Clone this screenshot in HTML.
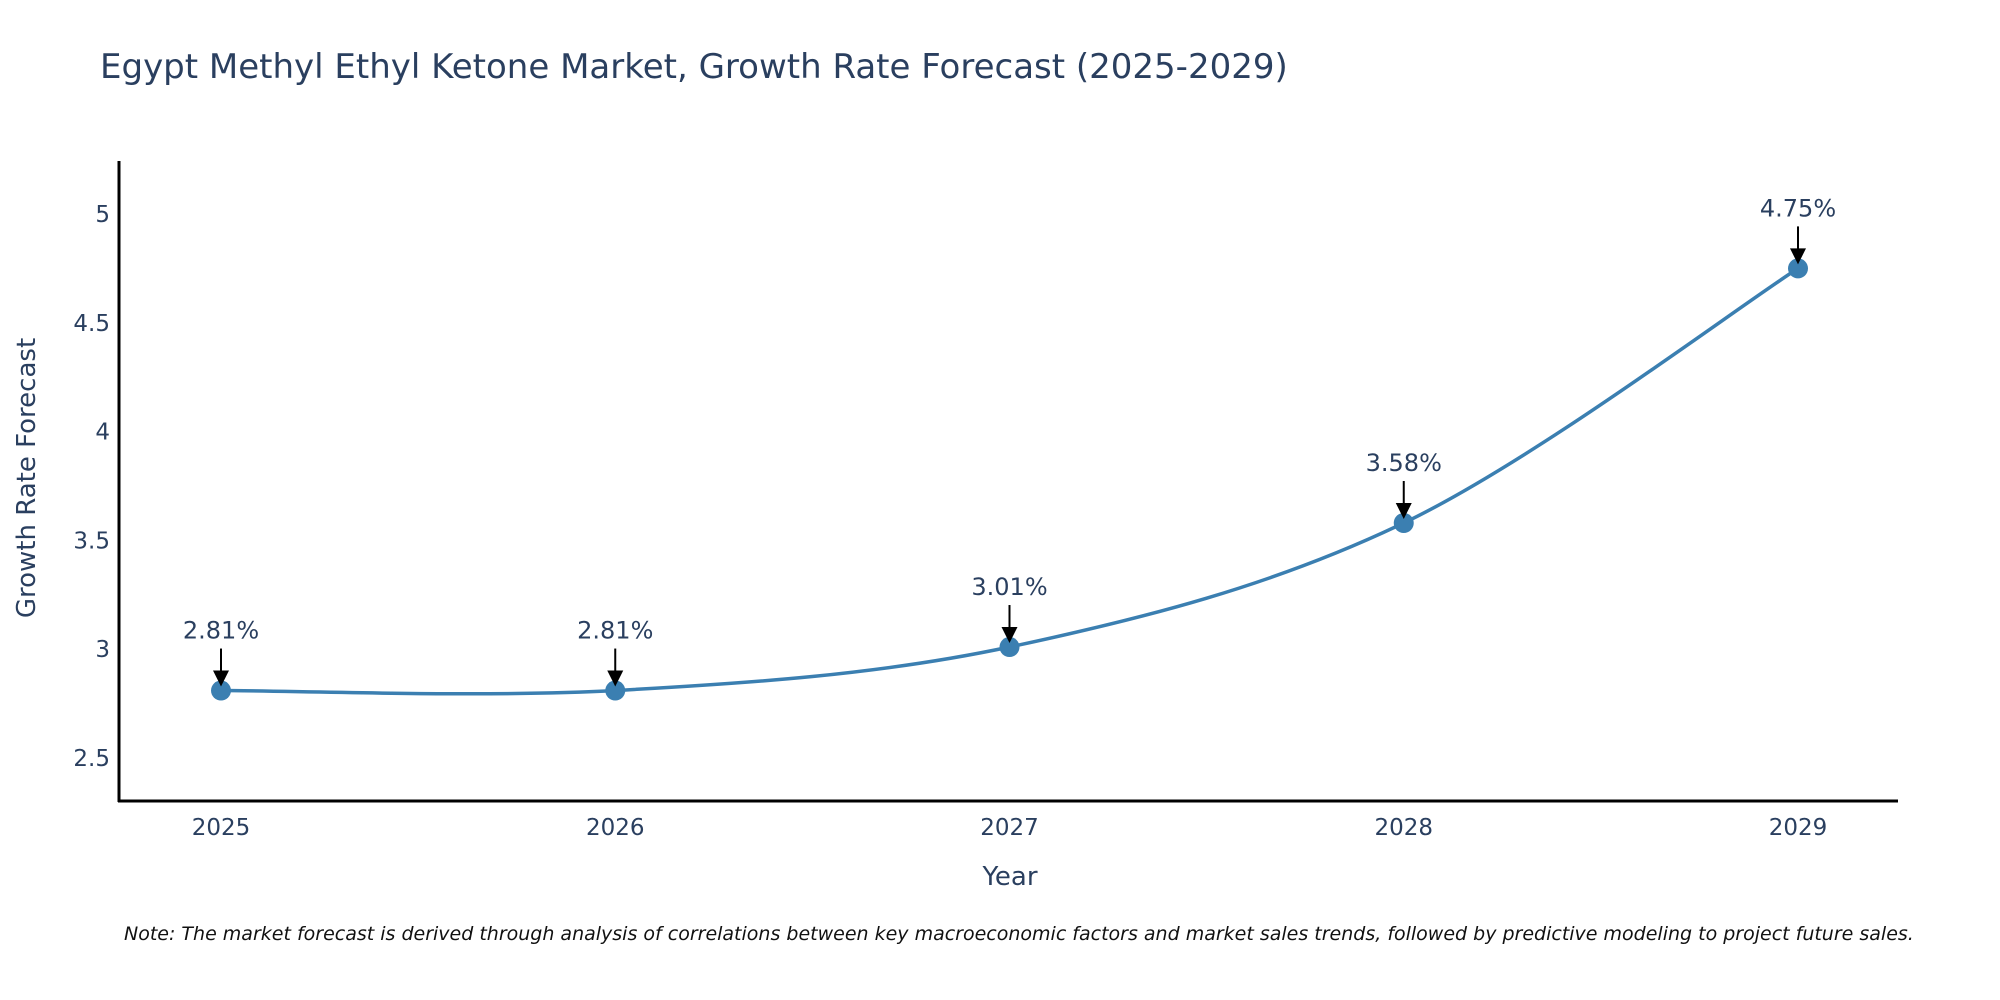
<!DOCTYPE html>
<html><head><meta charset="utf-8"><style>
body{margin:0;background:#fff;}
svg{display:block;font-family:"DejaVu Sans","Liberation Sans",sans-serif;}
</style></head><body>
<svg id="chart" width="2000" height="1000">
<text x="100" y="78" font-size="34" fill="#2a3f5f">Egypt Methyl Ethyl Ketone Market, Growth Rate Forecast (2025-2029)</text>
<g id="yticks"></g>
<g id="xticks"></g>
<line x1="119" y1="161" x2="119" y2="802" stroke="#000" stroke-width="3"/>
<line x1="118" y1="801" x2="1898" y2="801" stroke="#000" stroke-width="3"/>
<path id="line" fill="none" stroke="#3b7fb1" stroke-width="3.5"/>
<g id="points"></g>
<text transform="translate(35,478) rotate(-90)" text-anchor="middle" font-size="26" fill="#2a3f5f">Growth Rate Forecast</text>
<text x="1010" y="885" text-anchor="middle" font-size="26" fill="#2a3f5f">Year</text>
<text x="124" y="940" font-size="19" font-style="italic" fill="#111">Note: The market forecast is derived through analysis of correlations between key macroeconomic factors and market sales trends, followed by predictive modeling to project future sales.</text>
</svg>
<script>
const years=[2025,2026,2027,2028,2029];
const values=[2.81,2.81,3.01,3.58,4.75];
const labels=["2.81%","2.81%","3.01%","3.58%","4.75%"];
const yTicks=[2.5,3,3.5,4,4.5,5];
const NS="http://www.w3.org/2000/svg";
function xs(v){return 221+(v-2025)*(1798-221)/4;}
function ys(v){return 758-(v-2.5)*217.6;}
function mk(tag,attrs,parent){const e=document.createElementNS(NS,tag);for(const k in attrs)e.setAttribute(k,attrs[k]);parent.appendChild(e);return e;}
const yg=document.getElementById('yticks');
yTicks.forEach(t=>{const e=mk('text',{x:110,y:ys(t)+8,'text-anchor':'end','font-size':23,fill:'#2a3f5f'},yg);


e.textContent=String(t);});
const xg=document.getElementById('xticks');
years.forEach(y=>{const e=mk('text',{x:xs(y),y:835,'text-anchor':'middle','font-size':23,fill:'#2a3f5f'},xg);


e.textContent=String(y);});
const P=years.map((y,i)=>[xs(y),ys(values[i])]);
let d='M'+P[0][0]+','+P[0][1];
const tn=0.5;
for(let i=0;i<P.length-1;i++){const p0=P[Math.max(0,i-1)],p1=P[i],p2=P[i+1],p3=P[Math.min(P.length-1,i+2)];
const c1=[p1[0]+(p2[0]-p0[0])*tn/3,p1[1]+(p2[1]-p0[1])*tn/3];
const c2=[p2[0]-(p3[0]-p1[0])*tn/3,p2[1]-(p3[1]-p1[1])*tn/3];
d+=' C'+c1+' '+c2+' '+p2;}
document.getElementById('line').setAttribute('d',d);
const pg=document.getElementById('points');
P.forEach((p,i)=>{
const c=mk('circle',{cx:p[0],cy:p[1],r:10,fill:'#3b7fb1'},pg);


const l=mk('line',{x1:p[0],y1:p[1]-42,x2:p[0],y2:p[1]-14,stroke:'#000','stroke-width':2},pg);


const h=mk('polygon',{points:(p[0]-8)+','+(p[1]-20)+' '+(p[0]+8)+','+(p[1]-20)+' '+p[0]+','+(p[1]-4),fill:'#000'},pg);


const t=mk('text',{x:p[0],y:p[1]-52,'text-anchor':'middle','font-size':24,fill:'#2a3f5f'},pg);


t.textContent=labels[i];
});
</script>
</body></html>
